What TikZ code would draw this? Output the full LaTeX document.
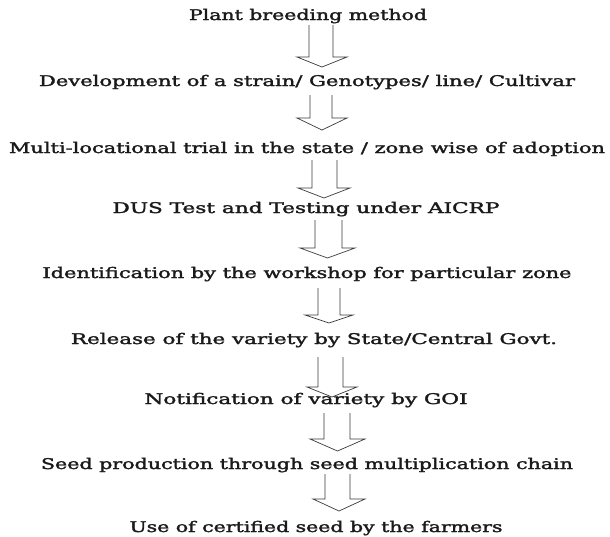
\documentclass[tikz,border=0pt]{standalone}
\usepackage{fontspec}
\setmainfont{DejaVu Serif}
\usepackage{graphicx}
\definecolor{txtc}{HTML}{1A1A1A}
\definecolor{arrc}{HTML}{3A3A3A}
\newcommand\wtxt[2]{\resizebox{#1pt}{\height}{\special{pdf:literal direct 2 Tr 0.25 w}#2\special{pdf:literal direct 0 Tr}}}
\tikzset{
  lbl/.style={anchor=base, inner sep=0pt, text=txtc, font=\fontsize{14.7}{17}\selectfont},
  barrow/.style={draw=arrc, line width=0.7pt, line join=miter}
}
% #1 top y, #2 head y, #3 tip y, #4 shaft L, #5 shaft R, #6 head L, #7 head R
\newcommand\blockarr[7]{%
  \draw[barrow] (#4,#1) -- (#4,#2) -- (#6,#2) -- ({(#6+#7)/2},#3) -- (#7,#2) -- (#5,#2) -- (#5,#1);}
\begin{document}
\begin{tikzpicture}[x=1pt,y=-1pt]
\useasboundingbox (0,0) rectangle (610,536);
\fill[white] (0,0) rectangle (610,536);
\node[lbl] (t1) at (308,20) {\wtxt{238}{Plant breeding method}};
\node[lbl] (t2) at (307,86) {\wtxt{536}{Development of a strain/ Genotypes/ line/ Cultivar}};
\node[lbl] (t3) at (307,153) {\wtxt{596}{Multi-locational trial in the state / zone wise of adoption}};
\node[lbl] (t4) at (306,213) {\wtxt{387}{DUS Test and Testing under AICRP}};
\node[lbl] (t5) at (307,278) {\wtxt{529}{Identification by the workshop for particular zone}};
\node[lbl] (t6) at (314,344) {\wtxt{486}{Release of the variety by State/Central Govt.}};
\node[lbl] (t7) at (306,404) {\wtxt{323}{Notification of variety by GOI}};
\node[lbl] (t8) at (307,469) {\wtxt{532}{Seed production through seed multiplication chain}};
\node[lbl] (t9) at (316,532) {\wtxt{373}{Use of certified seed by the farmers}};
\blockarr{25}{57}{67}{309}{333}{297}{347}
\blockarr{95}{118}{130}{310}{332}{297}{347}
\blockarr{160}{188}{198}{312}{337}{298}{350}
\blockarr{220}{248}{258}{315}{342}{300}{355}
\blockarr{288}{315}{323}{318}{340}{305}{353}
\blockarr{357}{387}{397}{318}{343}{307}{357}
\blockarr{413}{439}{451}{324}{350}{310}{365}
\blockarr{474}{499}{511}{325}{350}{313}{365}
\end{tikzpicture}
\end{document}
